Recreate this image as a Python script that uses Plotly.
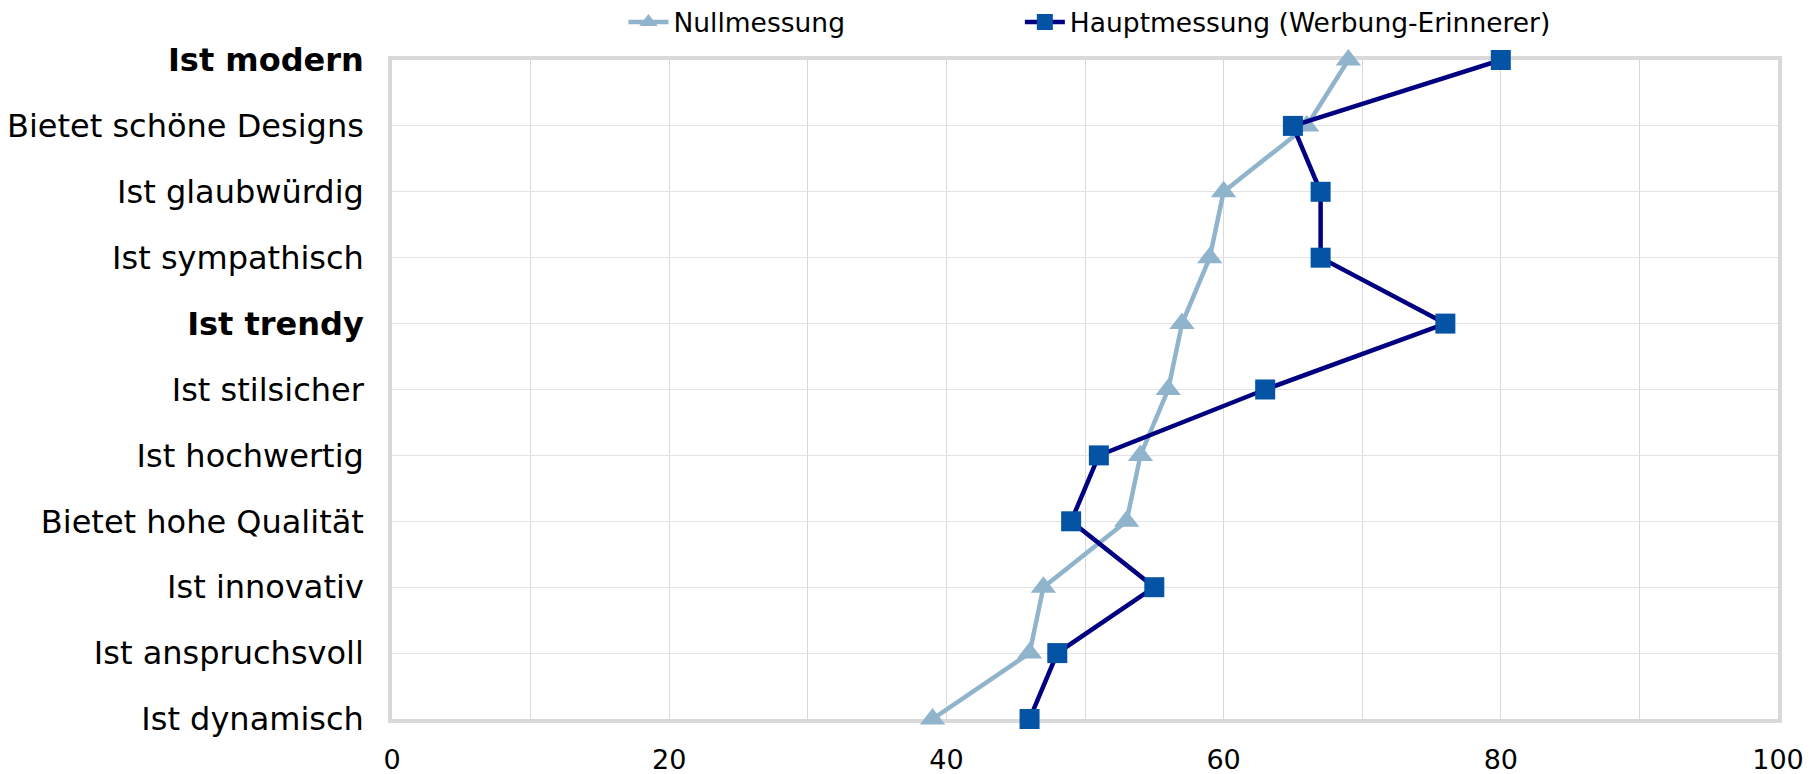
import plotly.graph_objects as go

categories = ["Ist modern", "Bietet schöne Designs", "Ist glaubwürdig", "Ist sympathisch",
              "Ist trendy", "Ist stilsicher", "Ist hochwertig", "Bietet hohe Qualität",
              "Ist innovativ", "Ist anspruchsvoll", "Ist dynamisch"]
bold_categories = ["Ist modern", "Ist trendy"]
nullmessung = [69, 66, 60, 59, 57, 56, 54, 53, 47, 46, 39]
hauptmessung = [80, 65, 67, 67, 76, 63, 51, 49, 55, 48, 46]
series_names = ["Nullmessung", "Hauptmessung (Werbung-Erinnerer)"]
x_ticks = [0, 20, 40, 60, 80, 100]

tick_text = [f"<b>{c}</b>" if c in bold_categories else c for c in categories]

FONT = "DejaVu Sans, Verdana, sans-serif"

fig = go.Figure()
fig.add_trace(go.Scatter(
    x=nullmessung, y=categories, name=series_names[0], mode="lines+markers",
    line=dict(color="#8FB4CC", width=4.5),
    marker=dict(symbol="triangle-up", size=22, color="#8FB4CC"),
    cliponaxis=False, legend="legend",
))
fig.add_trace(go.Scatter(
    x=hauptmessung, y=categories, name=series_names[1], mode="lines+markers",
    line=dict(color="#000080", width=4.5),
    marker=dict(symbol="square", size=20, color="#0453A5"),
    cliponaxis=False, legend="legend2",
))

leg_common = dict(orientation="h", yref="container", y=0.9815, yanchor="middle",
                  xanchor="left", font=dict(size=26.5, family=FONT), itemwidth=40,
                  bgcolor="rgba(0,0,0,0)")

fig.update_layout(
    width=1804, height=766,
    margin=dict(l=384, r=34, t=52, b=55, autoexpand=False),
    plot_bgcolor="white", paper_bgcolor="white",
    font=dict(family=FONT, color="black"),
    showlegend=True,
    legend=dict(x=0.167, **leg_common),
    legend2=dict(x=0.453, **leg_common),
    xaxis=dict(range=[0, 100], tickvals=x_ticks, showgrid=True, gridcolor="#D9D9D9", gridwidth=1,
               minor=dict(dtick=10, showgrid=True, gridcolor="#D9D9D9", gridwidth=1),
               showline=True, linecolor="#D9D9D9", linewidth=3.5, mirror=True, layer="below traces",
               tickfont=dict(size=27), ticks="", ticklabelstandoff=14, zeroline=False),
    yaxis=dict(type="category", categoryorder="array", categoryarray=categories,
               range=[10, 0], tickvals=categories, ticktext=tick_text,
               showgrid=True, gridcolor="#E3E3E3", gridwidth=1,
               showline=True, linecolor="#D9D9D9", linewidth=3.5, mirror=True, layer="below traces",
               tickfont=dict(size=32), ticks="", ticklabelstandoff=18, zeroline=False),
)

fig.write_html("out.html")
